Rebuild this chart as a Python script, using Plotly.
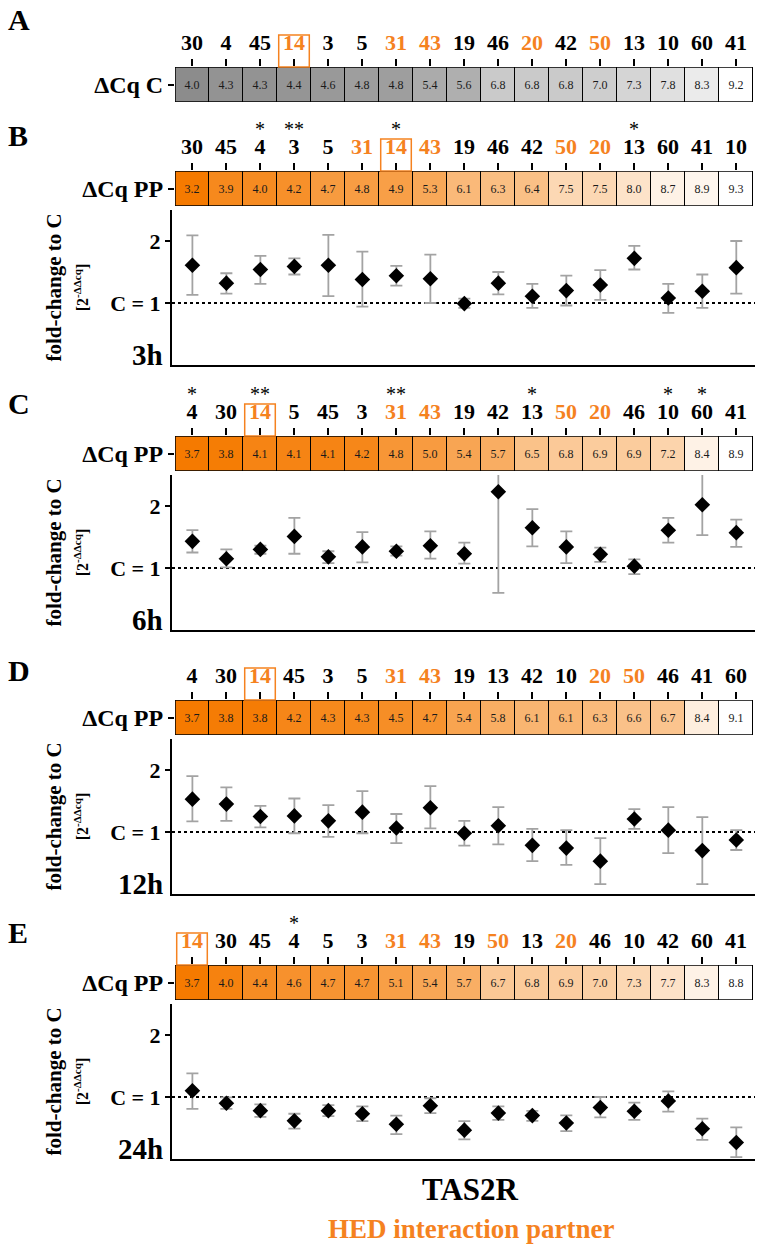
import plotly.graph_objects as go

W, H = 758, 1246
FONT = "Liberation Serif"
ORANGE = "#F5821F"
HED_PARTNERS = ["14", "31", "43", "20", "50"]
BOXED = "14"

# ---------------- data ----------------
labels_A = ["30", "4", "45", "14", "3", "5", "31", "43", "19", "46", "20", "42", "50", "13", "10", "60", "41"]
dcq_A = [4.0, 4.3, 4.3, 4.4, 4.6, 4.8, 4.8, 5.4, 5.6, 6.8, 6.8, 6.8, 7.0, 7.3, 7.8, 8.3, 9.2]

labels_B = ["30", "45", "4", "3", "5", "31", "14", "43", "19", "46", "42", "50", "20", "13", "60", "41", "10"]
dcq_B = [3.2, 3.9, 4.0, 4.2, 4.7, 4.8, 4.9, 5.3, 6.1, 6.3, 6.4, 7.5, 7.5, 8.0, 8.7, 8.9, 9.3]
stars_B = {"4": "*", "3": "**", "14": "*", "13": "*"}
fc_B = [1.61, 1.32, 1.54, 1.59, 1.61, 1.38, 1.44, 1.39, 0.99, 1.32, 1.11, 1.20, 1.29, 1.72, 1.08, 1.19, 1.57]
hi_B = [2.09, 1.48, 1.76, 1.72, 2.10, 1.83, 1.60, 1.78, 1.07, 1.50, 1.31, 1.44, 1.53, 1.92, 1.31, 1.46, 2.00]
lo_B = [1.13, 1.15, 1.31, 1.46, 1.11, 0.94, 1.28, 1.00, 0.92, 1.14, 0.92, 0.96, 1.05, 1.54, 0.84, 0.92, 1.15]

labels_C = ["4", "30", "14", "5", "45", "3", "31", "43", "19", "42", "13", "50", "20", "46", "10", "60", "41"]
dcq_C = [3.7, 3.8, 4.1, 4.1, 4.1, 4.2, 4.8, 5.0, 5.4, 5.7, 6.5, 6.8, 6.9, 6.9, 7.2, 8.4, 8.9]
stars_C = {"4": "*", "14": "**", "31": "**", "13": "*", "10": "*", "60": "*"}
fc_C = [1.43, 1.15, 1.30, 1.51, 1.18, 1.34, 1.27, 1.36, 1.23, 2.23, 1.65, 1.34, 1.22, 1.03, 1.61, 2.02, 1.57]
hi_C = [1.61, 1.30, 1.36, 1.81, 1.27, 1.58, 1.35, 1.59, 1.41, 2.56, 1.95, 1.59, 1.33, 1.14, 1.81, 2.56, 1.78]
lo_C = [1.25, 1.01, 1.23, 1.23, 1.08, 1.09, 1.20, 1.15, 1.07, 0.60, 1.35, 1.08, 1.10, 0.90, 1.41, 1.53, 1.34]

labels_D = ["4", "30", "14", "45", "3", "5", "31", "43", "19", "13", "42", "10", "20", "50", "46", "41", "60"]
dcq_D = [3.7, 3.8, 3.8, 4.2, 4.3, 4.3, 4.5, 4.7, 5.4, 5.8, 6.1, 6.1, 6.3, 6.6, 6.7, 8.4, 9.1]
stars_D = {}
fc_D = [1.53, 1.45, 1.25, 1.26, 1.18, 1.32, 1.065, 1.39, 0.98, 1.10, 0.785, 0.74, 0.53, 1.21, 1.03, 0.70, 0.87]
hi_D = [1.90, 1.72, 1.42, 1.54, 1.435, 1.66, 1.29, 1.74, 1.18, 1.40, 1.05, 1.03, 0.90, 1.37, 1.40, 1.24, 1.03]
lo_D = [1.17, 1.18, 1.075, 0.98, 0.92, 0.98, 0.82, 1.06, 0.78, 0.80, 0.53, 0.47, 0.16, 1.05, 0.66, 0.16, 0.71]

labels_E = ["14", "30", "45", "4", "5", "3", "31", "43", "19", "50", "13", "20", "46", "10", "42", "60", "41"]
dcq_E = [3.7, 4.0, 4.4, 4.6, 4.7, 4.7, 5.1, 5.4, 5.7, 6.7, 6.8, 6.9, 7.0, 7.3, 7.7, 8.3, 8.8]
stars_E = {"4": "*"}
fc_E = [1.10, 0.90, 0.78, 0.615, 0.78, 0.73, 0.56, 0.86, 0.465, 0.74, 0.70, 0.58, 0.83, 0.77, 0.935, 0.487, 0.267]
hi_E = [1.38, 0.995, 0.88, 0.73, 0.87, 0.85, 0.70, 0.98, 0.61, 0.85, 0.775, 0.705, 1.00, 0.91, 1.09, 0.65, 0.51]
lo_E = [0.81, 0.81, 0.68, 0.49, 0.69, 0.61, 0.40, 0.74, 0.315, 0.63, 0.615, 0.45, 0.67, 0.63, 0.765, 0.31, 0.03]

time_labels = ["3h", "6h", "12h", "24h"]

# ---------------- layout geometry (pixels) ----------------
X0, X1 = 175, 753
HEAT_H = 35
SC_GAP = 4
SC_H = 155
YMAX = 2.5

heat_A_top = 67
panels = [
    dict(letter="B", letter_y=136, heat_top=171, labels=labels_B, dcq=dcq_B, stars=stars_B,
         fc=fc_B, hi=hi_B, lo=lo_B, t=time_labels[0]),
    dict(letter="C", letter_y=403, heat_top=436, labels=labels_C, dcq=dcq_C, stars=stars_C,
         fc=fc_C, hi=hi_C, lo=lo_C, t=time_labels[1]),
    dict(letter="D", letter_y=670, heat_top=700, labels=labels_D, dcq=dcq_D, stars=stars_D,
         fc=fc_D, hi=hi_D, lo=lo_D, t=time_labels[2]),
    dict(letter="E", letter_y=932, heat_top=965, labels=labels_E, dcq=dcq_E, stars=stars_E,
         fc=fc_E, hi=hi_E, lo=lo_E, t=time_labels[3]),
]


def py(p):
    return 1 - p / H


def px_x(p):
    return p / W


def styled(lbls):
    return ['<span style="color:%s">%s</span>' % (ORANGE, l) if l in HED_PARTNERS else l for l in lbls]


fig = go.Figure()
layout = dict(
    width=W, height=H, margin=dict(l=0, r=0, t=0, b=0),
    paper_bgcolor="white", plot_bgcolor="white", showlegend=False,
    font=dict(family=FONT, color="black"),
)
shapes = []
annotations = []

ORANGE_SCALE = [[0, "#F57A00"], [1, "#FFFFFF"]]
GRAY_SCALE = [[0, "#8C8C8C"], [1, "#FFFFFF"]]

axis_counter = [0]


def new_axes():
    axis_counter[0] += 1
    n = axis_counter[0]
    return "" if n == 1 else str(n)


def add_heatmap(labels, vals, top, scale, ylabel, stars, letter, letter_y):
    bottom = top + HEAT_H
    suf = new_axes()
    xa, ya = "x" + suf, "y" + suf
    idx = list(range(len(labels)))
    fig.add_trace(go.Heatmap(
        z=[vals], x=idx, y=[0], colorscale=scale, showscale=False,
        xgap=1, ygap=0, xaxis=xa, yaxis=ya,
        texttemplate="%{z:.1f}", textfont=dict(family=FONT, size=12, color="#1a1a1a"),
        hoverinfo="skip",
    ))
    layout["xaxis" + suf] = dict(
        domain=[px_x(X0), px_x(X1)], range=[-0.5, len(labels) - 0.5], anchor=ya,
        side="top", tickvals=idx, ticktext=styled(labels), ticks="outside", ticklen=7,
        tickwidth=1.5, tickcolor="black", showgrid=False, zeroline=False, showline=False,
        tickfont=dict(family=FONT, size=22, color="black", weight="bold"), fixedrange=True,
    )
    layout["yaxis" + suf] = dict(
        domain=[py(bottom), py(top)], range=[-0.5, 0.5], anchor=xa,
        tickvals=[0], ticktext=[ylabel], ticks="outside", ticklen=6, tickwidth=1.5,
        tickcolor="black", showgrid=False, zeroline=False, showline=False,
        tickfont=dict(family=FONT, size=24, color="black", weight="bold"), fixedrange=True,
    )
    shapes.append(dict(type="rect", xref=xa, yref=ya, x0=-0.5, x1=len(labels) - 0.5, y0=-0.5, y1=0.5,
                       fillcolor="black", line=dict(width=0), layer="below"))
    shapes.append(dict(type="rect", xref=xa, yref=ya, x0=-0.5, x1=len(labels) - 0.5, y0=-0.5, y1=0.5,
                       fillcolor="rgba(0,0,0,0)", line=dict(width=1.5, color="black"), layer="above"))
    bi = labels.index(BOXED)
    shapes.append(dict(type="rect", xref=xa, yref="paper", x0=bi - 0.45, x1=bi + 0.45,
                       y0=py(top), y1=py(top - 32), line=dict(width=1.5, color=ORANGE),
                       fillcolor="rgba(0,0,0,0)"))
    for lab, s in stars.items():
        annotations.append(dict(x=labels.index(lab), xref=xa, y=py(top - 42), yref="paper",
                                text=s, showarrow=False, font=dict(family=FONT, size=20, color="black"),
                                xanchor="center", yanchor="middle"))
    annotations.append(dict(x=px_x(6), xref="paper", y=py(letter_y), yref="paper", text="<b>%s</b>" % letter,
                            showarrow=False, xanchor="left", yanchor="middle",
                            font=dict(family=FONT, size=30, color="black")))
    return bottom


def add_scatter(fc, hi, lo, top, tlabel):
    bottom = top + SC_H
    suf = new_axes()
    xa, ya = "x" + suf, "y" + suf
    idx = list(range(len(fc)))
    ep = [h - f for h, f in zip(hi, fc)]
    em = [f - l for f, l in zip(fc, lo)]
    fig.add_trace(go.Scatter(
        x=idx, y=fc, mode="markers", xaxis=xa, yaxis=ya, cliponaxis=False,
        marker=dict(symbol="diamond", size=12, color="black"),
        error_y=dict(type="data", symmetric=False, array=ep, arrayminus=em,
                     color="#A3A3A3", thickness=1.8, width=6),
        hoverinfo="skip",
    ))
    layout["xaxis" + suf] = dict(
        domain=[px_x(X0 - 3), px_x(X1 + 2)], range=[-0.6, 16.55], anchor=ya,
        showticklabels=False, ticks="", showgrid=False, zeroline=False,
        showline=True, linecolor="black", linewidth=2, fixedrange=True,
    )
    layout["yaxis" + suf] = dict(
        domain=[py(bottom), py(top)], range=[0, YMAX], anchor=xa,
        tickvals=[1, 2], ticktext=["C = 1", "2"], ticks="outside", ticklen=5, tickwidth=1.5,
        tickcolor="black", showgrid=False, zeroline=False, showline=True, linecolor="black", linewidth=2,
        tickfont=dict(family=FONT, size=22, color="black", weight="bold"), fixedrange=True,
    )
    shapes.append(dict(type="line", xref=xa, yref=ya, x0=-0.6, x1=16.55, y0=1, y1=1,
                       line=dict(color="black", width=2, dash="dot"), layer="below"))
    annotations.append(dict(x=px_x(X0 - 10), xref="paper", y=0.16, yref=ya, text="<b>%s</b>" % tlabel,
                            showarrow=False, xanchor="right", yanchor="middle",
                            font=dict(family=FONT, size=29, color="black")))
    annotations.append(dict(x=px_x(66), xref="paper", y=0.5, yref=ya + " domain",
                            text="<b>fold-change to C</b><br><b><span style='font-size:16px'>[2<sup>-ΔΔcq</sup>]</span></b>",
                            showarrow=False, textangle=-90, xanchor="center", yanchor="middle",
                            font=dict(family=FONT, size=21, color="black")))


add_heatmap(labels_A, dcq_A, heat_A_top, GRAY_SCALE, "ΔCq C", {}, "A", 20)
for p in panels:
    hb = add_heatmap(p["labels"], p["dcq"], p["heat_top"], ORANGE_SCALE, "ΔCq PP",
                     p["stars"], p["letter"], p["letter_y"])
    add_scatter(p["fc"], p["hi"], p["lo"], hb + SC_GAP, p["t"])

annotations.append(dict(x=px_x(470), xref="paper", y=py(1189), yref="paper", text="<b>TAS2R</b>",
                        showarrow=False, xanchor="center", yanchor="middle",
                        font=dict(family=FONT, size=31, color="black")))
annotations.append(dict(x=px_x(471), xref="paper", y=py(1229), yref="paper", text="<b>HED interaction partner</b>",
                        showarrow=False, xanchor="center", yanchor="middle",
                        font=dict(family=FONT, size=27, color=ORANGE)))

layout["shapes"] = shapes
layout["annotations"] = annotations
fig.update_layout(**layout)
fig.write_html("out.html")
